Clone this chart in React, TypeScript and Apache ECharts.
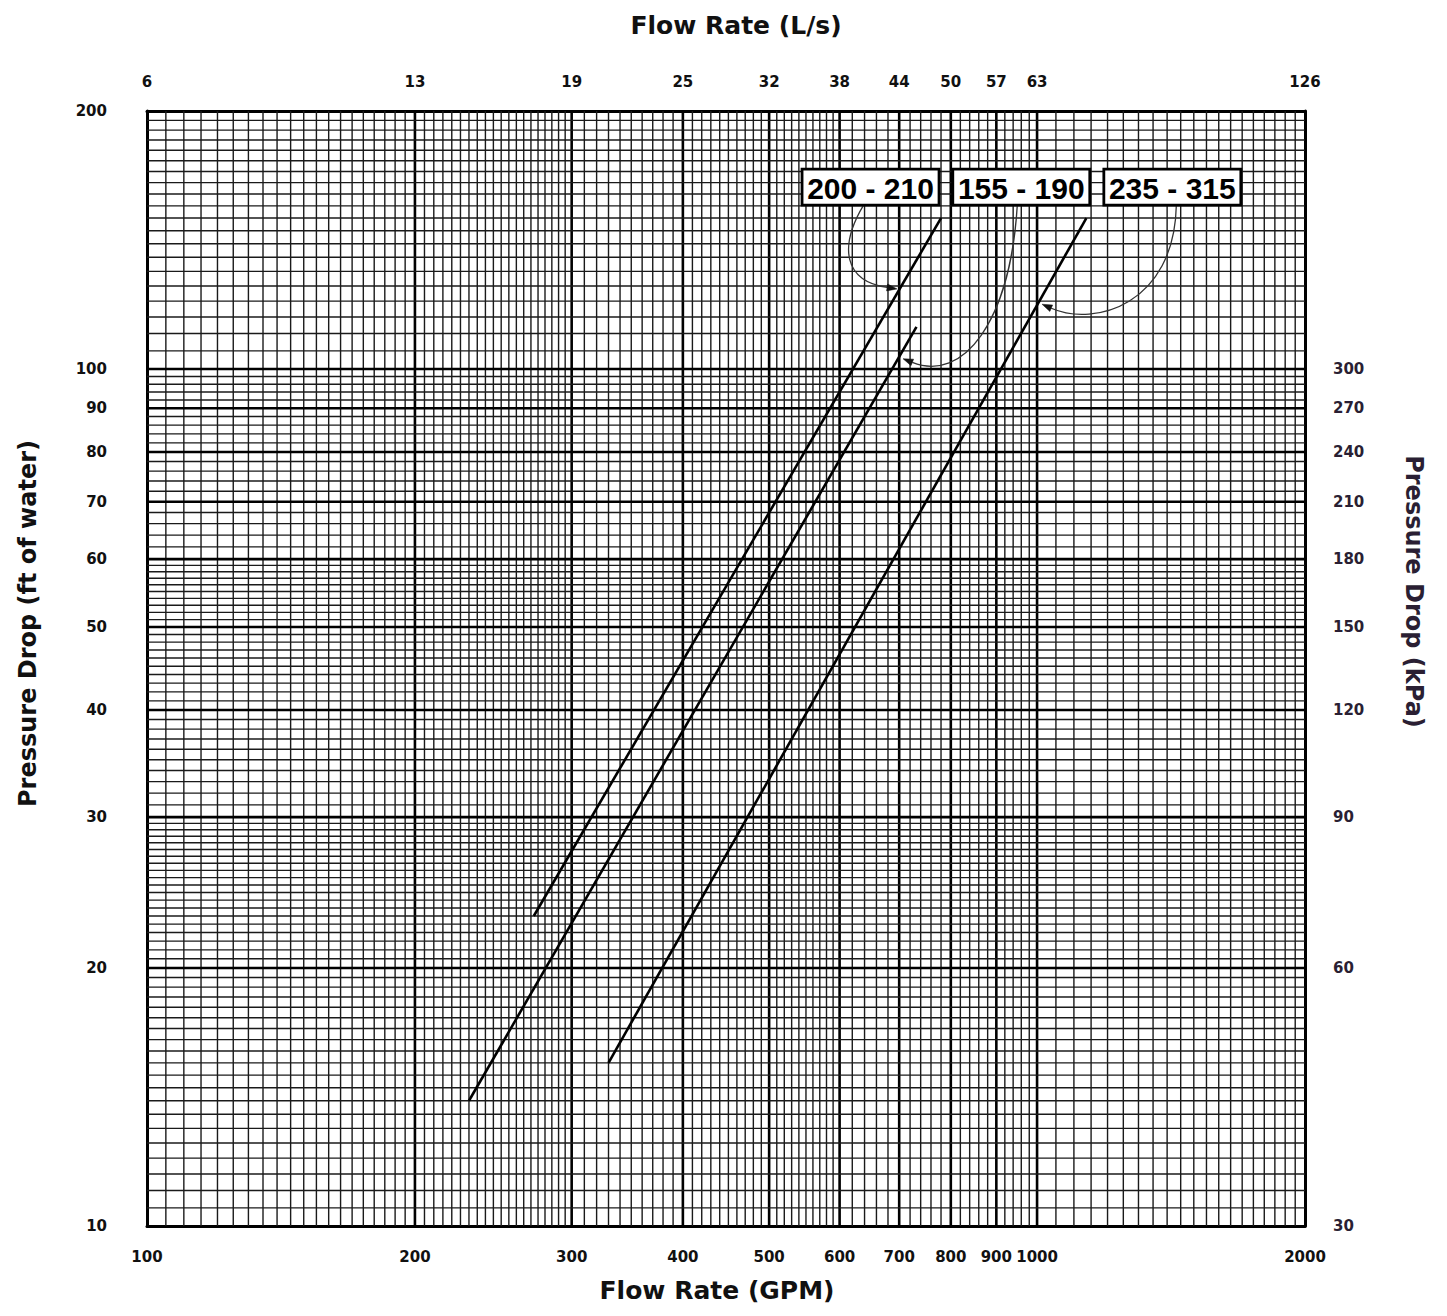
import React, { useEffect, useRef } from "react";
import * as echarts from "echarts";

// ---- axis ticks / labels ----
const gpmTicks = [100, 200, 300, 400, 500, 600, 700, 800, 900, 1000, 2000];
const gpmLabels = ["100", "200", "300", "400", "500", "600", "700", "800", "900", "1000", "2000"];
const lpsLabels = ["6", "13", "19", "25", "32", "38", "44", "50", "57", "63", "126"];
const ftTicks = [10, 20, 30, 40, 50, 60, 70, 80, 90, 100, 200];
const ftLabels = ["10", "20", "30", "40", "50", "60", "70", "80", "90", "100", "200"];
const kpaTicks = [10, 20, 30, 40, 50, 60, 70, 80, 90, 100];
const kpaLabels = ["30", "60", "90", "120", "150", "180", "210", "240", "270", "300"];

// ---- chart-paper grid runs: [from, to, step] ----
const xGridRuns = [
  [100, 300, 5],
  [300, 600, 10],
  [600, 1000, 20],
  [1000, 2000, 50],
];
const yGridRuns = [
  [10, 30, 0.5],
  [30, 60, 1],
  [60, 100, 2],
  [100, 200, 5],
];
const xMajor = [200, 300, 400, 500, 600, 700, 800, 900, 1000];
const yMajor = [20, 30, 40, 50, 60, 70, 80, 90, 100];

// ---- pressure-drop curves (GPM, ft of water) ----
const curveNames = ["200 - 210", "155 - 190", "235 - 315"];
const curveGpm = [
  [272, 780],
  [230, 732],
  [330, 1136],
];
const curveFt = [
  [23, 150],
  [14, 112],
  [15.5, 150],
];

// ---- callout anchors (data units) ----
const calloutBoxGpm = [650, 960, 1419];
const calloutBoxFt = [163, 163, 163];
const calloutTipGpm = [696, 707, 1013];
const calloutTipFt = [124, 102.8, 119];

// layout of leader curves (pixel offsets)
const leaderLayout = [
  { startDx: -7, c1: [-25, 42], c2: [-53, -8] },
  { startDx: -4, c1: [-7, 117], c2: [60, 24] },
  { startDx: 4, c1: [-2, 99], c2: [53, 23] },
];
const BOX_W = 137;
const BOX_H = 36;

const X0 = Math.log10(100);
const X1 = Math.log10(2000);
const Y0 = Math.log10(10);
const Y1 = Math.log10(200);

function nearest(ticks: number[], v: number) {
  let best = 0;
  let bd = Infinity;
  ticks.forEach((t, i) => {
    const d = Math.abs(Math.log10(t) - v);
    if (d < bd) {
      bd = d;
      best = i;
    }
  });
  return best;
}

function buildGridItems() {
  const items: number[][] = [];
  const seen = new Set<string>();
  const add = (dir: number, runs: number[][], major: number[], lo: number, hi: number) => {
    runs.forEach(([a, b, s]) => {
      const n = Math.round((b - a) / s);
      for (let i = 0; i <= n; i++) {
        const v = +(a + i * s).toFixed(4);
        const key = dir + ":" + v;
        if (seen.has(key) || v <= lo || v >= hi) continue;
        seen.add(key);
        items.push([dir, Math.log10(v), major.includes(v) ? 1 : 0]);
      }
    });
  };
  add(0, xGridRuns, xMajor, 100, 2000);
  add(1, yGridRuns, yMajor, 10, 200);
  return items;
}

const tickFont = {
  fontFamily: '"DejaVu Sans", Verdana, sans-serif',
  fontWeight: "bold" as const,
  fontSize: 15,
  color: "#111",
};
const nameFont = {
  fontFamily: '"DejaVu Sans", Verdana, sans-serif',
  fontWeight: "bold" as const,
  color: "#111",
};
const axisLineStyle = { show: true, onZero: false, lineStyle: { color: "#000", width: 3 } };

export default function App() {
  const ref = useRef<HTMLDivElement>(null);

  useEffect(() => {
    if (!ref.current) return;
    const chart = echarts.init(ref.current, undefined, { renderer: "svg" });

    const curveSeries = curveNames.map((name, i) => ({
      name,
      type: "line",
      xAxisIndex: 0,
      yAxisIndex: 0,
      symbol: "none",
      z: 3,
      silent: true,
      lineStyle: { color: "#000", width: 2.6 },
      data: curveGpm[i].map((g, j) => [Math.log10(g), Math.log10(curveFt[i][j])]),
    }));

    const option: any = {
      animation: false,
      backgroundColor: "#fff",
      grid: { left: 137, right: 134, top: 99, bottom: 80, containLabel: false },
      xAxis: [
        {
          type: "value",
          position: "bottom",
          min: X0,
          max: X1,
          axisLine: axisLineStyle,
          axisTick: { show: false },
          splitLine: { show: false },
          axisLabel: {
            ...tickFont,
            margin: 23,
            customValues: gpmTicks.map((t) => Math.log10(t)),
            formatter: (v: number) => gpmLabels[nearest(gpmTicks, v)],
          },
          name: "Flow Rate (GPM)",
          nameLocation: "middle",
          nameGap: 52,
          nameTextStyle: { ...nameFont, fontSize: 25, padding: [0, 18, 0, 0] },
        },
        {
          type: "value",
          position: "top",
          min: X0,
          max: X1,
          axisLine: axisLineStyle,
          axisTick: { show: false },
          splitLine: { show: false },
          axisLabel: {
            ...tickFont,
            margin: 22,
            customValues: gpmTicks.map((t) => Math.log10(t)),
            formatter: (v: number) => lpsLabels[nearest(gpmTicks, v)],
          },
          name: "Flow Rate (L/s)",
          nameLocation: "middle",
          nameGap: 73,
          nameTextStyle: { ...nameFont, fontSize: 25, padding: [0, 0, 0, 20] },
        },
      ],
      yAxis: [
        {
          type: "value",
          position: "left",
          min: Y0,
          max: Y1,
          axisLine: axisLineStyle,
          axisTick: { show: false },
          splitLine: { show: false },
          axisLabel: {
            ...tickFont,
            margin: 40,
            customValues: ftTicks.map((t) => Math.log10(t)),
            formatter: (v: number) => ftLabels[nearest(ftTicks, v)],
          },
          name: "Pressure Drop (ft of water)",
          nameLocation: "middle",
          nameGap: 107,
          nameTextStyle: { ...nameFont, fontSize: 24, padding: [0, 0, 0, 90] },
        },
        {
          type: "value",
          position: "right",
          min: Y0,
          max: Y1,
          axisLine: axisLineStyle,
          axisTick: { show: false },
          splitLine: { show: false },
          axisLabel: {
            ...tickFont,
            color: "#2a1f33",
            margin: 28,
            customValues: kpaTicks.map((t) => Math.log10(t)),
            formatter: (v: number) => kpaLabels[nearest(kpaTicks, v)],
          },
          name: "Pressure Drop (kPa)",
          nameLocation: "middle",
          nameRotate: -90,
          nameGap: 97,
          nameTextStyle: { ...nameFont, color: "#2a1f33", fontSize: 24, padding: [0, 154, 0, 0] },
        },
      ],
      series: [
        {
          name: "paper grid",
          type: "custom",
          xAxisIndex: 0,
          yAxisIndex: 0,
          z: 1,
          silent: true,
          clip: false,
          data: buildGridItems(),
          renderItem: (_params: any, api: any) => {
            const dir = api.value(0);
            const v = api.value(1);
            const major = api.value(2) === 1;
            const p1 = dir === 0 ? api.coord([v, Y0]) : api.coord([X0, v]);
            const p2 = dir === 0 ? api.coord([v, Y1]) : api.coord([X1, v]);
            return {
              type: "line",
              silent: true,
              shape: { x1: p1[0], y1: p1[1], x2: p2[0], y2: p2[1] },
              style: { stroke: major ? "#000" : "#1a1a1a", lineWidth: major ? 2.6 : 1.4 },
            };
          },
        },
        ...curveSeries,
        {
          name: "callouts",
          type: "custom",
          xAxisIndex: 0,
          yAxisIndex: 0,
          z: 5,
          silent: true,
          clip: false,
          data: calloutTipGpm.map((g, i) => [Math.log10(g), Math.log10(calloutTipFt[i])]),
          renderItem: (params: any, api: any) => {
            const i = params.dataIndex;
            const tip = api.coord([api.value(0), api.value(1)]);
            const c = api.coord([Math.log10(calloutBoxGpm[i]), Math.log10(calloutBoxFt[i])]);
            const L = leaderLayout[i];
            const sx = c[0] + L.startDx;
            const sy = c[1] + BOX_H / 2;
            const cp1 = [sx + L.c1[0], sy + L.c1[1]];
            const cp2 = [tip[0] + L.c2[0], tip[1] + L.c2[1]];
            const dx = tip[0] - cp2[0];
            const dy = tip[1] - cp2[1];
            const len = Math.hypot(dx, dy) || 1;
            const ux = dx / len;
            const uy = dy / len;
            const ah = 10;
            const aw = 3.5;
            const base = [tip[0] - ux * ah, tip[1] - uy * ah];
            const arrow = [
              [tip[0], tip[1]],
              [base[0] - uy * aw, base[1] + ux * aw],
              [base[0] + uy * aw, base[1] - ux * aw],
            ];
            return {
              type: "group",
              children: [
                {
                  type: "bezierCurve",
                  shape: {
                    x1: sx,
                    y1: sy,
                    x2: base[0],
                    y2: base[1],
                    cpx1: cp1[0],
                    cpy1: cp1[1],
                    cpx2: cp2[0],
                    cpy2: cp2[1],
                  },
                  style: { stroke: "#333", lineWidth: 1.3, fill: "none" },
                },
                { type: "polygon", shape: { points: arrow }, style: { fill: "#111", stroke: "#111", lineWidth: 0.5 } },
                {
                  type: "rect",
                  shape: { x: c[0] - BOX_W / 2, y: c[1] - BOX_H / 2, width: BOX_W, height: BOX_H },
                  style: { fill: "#fff", stroke: "#000", lineWidth: 2.8 },
                },
                {
                  type: "text",
                  style: {
                    text: curveNames[i],
                    x: c[0],
                    y: c[1] + 1,
                    align: "center",
                    verticalAlign: "middle",
                    fontFamily: '"Liberation Sans", Arial, sans-serif',
                    fontWeight: "bold",
                    fontSize: 30,
                    fill: "#000",
                  },
                },
              ],
            };
          },
        },
      ],
    };

    chart.setOption(option);
    return () => chart.dispose();
  }, []);

  return <div ref={ref} style={{ width: "1431px", height: "1300px" }} />;
}
